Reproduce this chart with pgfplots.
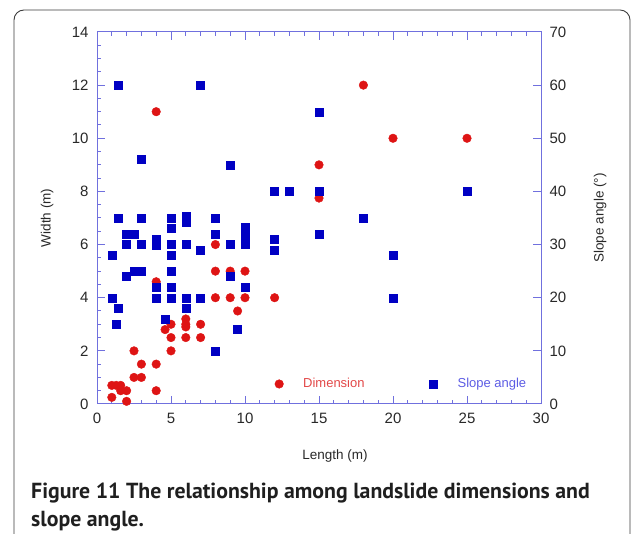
\documentclass[border=0pt]{standalone}
\usepackage{pgfplots}
\pgfplotsset{compat=1.18}
\usepackage{fontspec}
\setmainfont{Liberation Sans}
\newfontfamily\capfont{PT Sans}
\definecolor{axblue}{RGB}{112,112,222}
\definecolor{mkblue}{RGB}{0,0,195}
\definecolor{mkred}{RGB}{222,20,20}
\definecolor{lgred}{RGB}{226,72,72}
\definecolor{lgblue}{RGB}{92,92,228}
\definecolor{tickgray}{RGB}{40,40,40}
\definecolor{framegray}{RGB}{60,60,60}
\pgfplotsset{
  common/.style={
    scale only axis, width=444bp, height=372bp,
    at={(97bp,130bp)}, anchor=south west,
    axis line style={axblue, line width=1bp},
    every tick/.style={axblue, line width=1bp},
    tick align=inside,
    major tick length=8bp, minor tick length=4bp,
    tick label style={font=\fontsize{15bp}{17bp}\selectfont, text=tickgray},
    label style={font=\fontsize{13.5bp}{16bp}\selectfont, text=tickgray},
    /pgf/number format/assume math mode=true,
    xmin=0, xmax=30,
    clip=false,
  },
  legimg/.style={legend image code/.code={\path[draw=none] (-5bp,0) -- (22bp,0); \draw[draw=none, mark repeat=2,mark phase=2] plot coordinates {(-1bp,0) (0bp,0) (1bp,0)};}},
}
\begin{document}
\begin{tikzpicture}[x=1bp,y=1bp]
\useasboundingbox (0,0) rectangle (633,534);
\draw[framegray, line width=0.9bp, rounded corners=10bp] (14,-2) -- (14,524) -- (630,524) -- (630,-2);
\begin{axis}[common,
  ymin=0, ymax=14,
  xtick={0,5,...,30}, minor x tick num=4,
  ytick={0,2,...,14}, minor y tick num=3,
  xtick pos=both, ytick pos=left,
  yticklabel style={xshift=-5bp},
  xticklabel style={yshift=-6bp},
  xlabel={Length (m)}, ylabel={Width (m)},
  xlabel style={at={(rel axis cs:0.536,-0.1398)}, anchor=center},
  ylabel style={at={(rel axis cs:-0.1126,0.5)}, anchor=center, rotate=0},
]
\addplot[only marks, mark=*, mark size=4.3bp, color=mkred] coordinates {
(1.0,0.7) (1.3,0.7) (1.6,0.7) (1.6,0.5) (2.0,0.5) (1.0,0.25) (2.0,0.1)
(2.5,1.0) (3.0,1.0) (3.0,1.5) (2.5,2.0) (4.0,1.5) (4.0,0.5) (4.0,4.6)
(4.0,11.0) (4.6,2.8) (5.0,3.0) (5.0,2.5) (5.0,2.0) (6.0,3.2) (6.0,3.0)
(6.0,2.9) (6.0,2.5) (7.0,3.0) (7.0,2.5) (8.0,6.0) (8.0,5.0) (8.0,4.0)
(9.0,5.0) (9.0,4.0) (9.5,3.5) (10.0,5.0) (10.0,4.0) (12.0,4.0)
(15.0,9.0) (15.0,7.75) (18.0,12.0) (20.0,10.0) (25.0,10.0)
};
\end{axis}
\begin{axis}[common,
  ymin=0, ymax=70,
  ytick={0,10,...,70},
  hide x axis, ytick pos=right,
  yticklabel style={xshift=5bp},
  ylabel={Slope angle (°)},
  ylabel style={at={(rel axis cs:1.1329,0.5)}, anchor=center, rotate=0},
  legend columns=2,
  legend style={draw=none, fill=none, inner sep=0pt,
    at={(rel axis cs:0.3986,0.0538)}, anchor=west,
    font=\fontsize{13bp}{15bp}\selectfont,
    /tikz/every even column/.append style={column sep=62bp}},
]
\addlegendimage{only marks, mark=*, mark size=4.3bp, color=mkred, legimg}
\addlegendentry{\textcolor{lgred}{Dimension}}
\addplot[only marks, mark=square*, mark size=4bp, color=mkblue, legimg] coordinates {
(1.45,60) (7,60) (3,46) (9,45) (12,40) (13,40) (15,40) (15,55) (25,40)
(18,35) (15,32) (20,28) (20,20)
(1.45,35) (3,35) (5,35) (6,35.3) (6,34.2) (8,35)
(5,33) (10,33.3) (10,31.6) (8,32) (2,32) (2.5,32)
(2,30) (3,30) (4,31) (4,29.8) (5,30) (6,30) (7,29) (9,30) (10,30) (12,31) (12,29)
(1.05,28) (5,28)
(2,24) (2.5,25) (3,25) (5,25) (9,24)
(4,22) (5,22) (10,22)
(1.05,20) (4,20) (5,20) (6,20) (7,20)
(1.45,18) (6,18) (4.6,16) (1.3,15) (9.5,14) (8,10)
};
\addlegendentry{\textcolor{lgblue}{Slope angle}}
\end{axis}
\node[anchor=base west, inner sep=0pt, text=black!88, font=\capfont\bfseries\fontsize{21.8bp}{24bp}\selectfont] at (31,35) {Figure 11 The relationship among landslide dimensions and};
\node[anchor=base west, inner sep=0pt, text=black!88, font=\capfont\bfseries\fontsize{21.8bp}{24bp}\selectfont] at (31,7) {slope angle.};
\end{tikzpicture}
\end{document}
